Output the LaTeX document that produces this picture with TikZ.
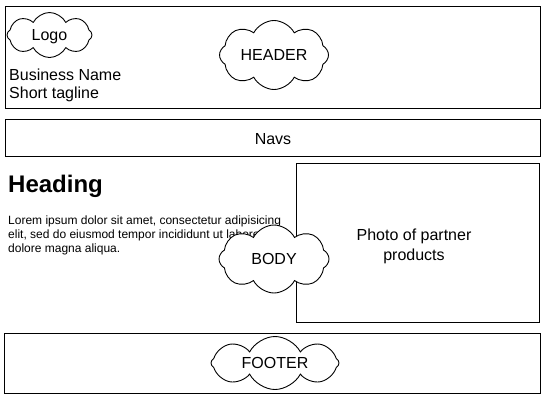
\documentclass[tikz,border=0pt]{standalone}
\usepackage{fontspec}
\setmainfont{Liberation Sans}
\usetikzlibrary{shapes.symbols}

\begin{document}
\begin{tikzpicture}[x=1pt,y=-1pt,
    box/.style={draw,line width=1pt},
    blob/.style={cloud,draw,fill=white,line width=0.9pt,cloud puffs=8,cloud puff arc=125,cloud ignores aspect,inner sep=0pt,text depth=0pt,font=\fontsize{16}{19}\selectfont},
    txt/.style={inner sep=0pt,font=\fontsize{16}{19}\selectfont},
    small/.style={inner sep=0pt,font=\fontsize{12}{14}\selectfont}]
        \useasboundingbox (0,0) rectangle (546,400);
        \draw[box] (5,6) rectangle (540,108);
        \draw[box] (5,119) rectangle (540,156);
        \draw[box] (296,163) rectangle (539,322);
        \draw[box] (4,333) rectangle (540,393);
        \node[txt,anchor=north west,align=left,font=\fontsize{16}{18}\selectfont] (bizname) at (9,68.5) {Business Name\\Short tagline};
        \node[txt,anchor=base] (navs) at (273,144) {Navs};
        \node[txt,anchor=base west,font=\bfseries\fontsize{24}{28}\selectfont] (heading) at (8,192) {Heading};
        \node[small,anchor=north west,align=left] (lorem) at (8,215.2) {Lorem ipsum dolor sit amet, consectetur adipisicing\\elit, sed do eiusmod tempor incididunt ut labore et\\dolore magna aliqua.};
        \node[txt,align=center,font=\fontsize{16}{20}\selectfont] (photo) at (414,246) {Photo of partner\\products};
        \node[blob,minimum width=85pt,minimum height=45pt] (logo) at (49.5,35) {Logo};
        \node[blob,minimum width=109pt,minimum height=69pt] (header) at (274,55) {HEADER};
        \node[blob,minimum width=110pt,minimum height=68pt] (body) at (274,259) {BODY};
        \node[blob,minimum width=128pt,minimum height=53pt] (footer) at (275,363) {FOOTER};
    \end{tikzpicture}
\end{document}
